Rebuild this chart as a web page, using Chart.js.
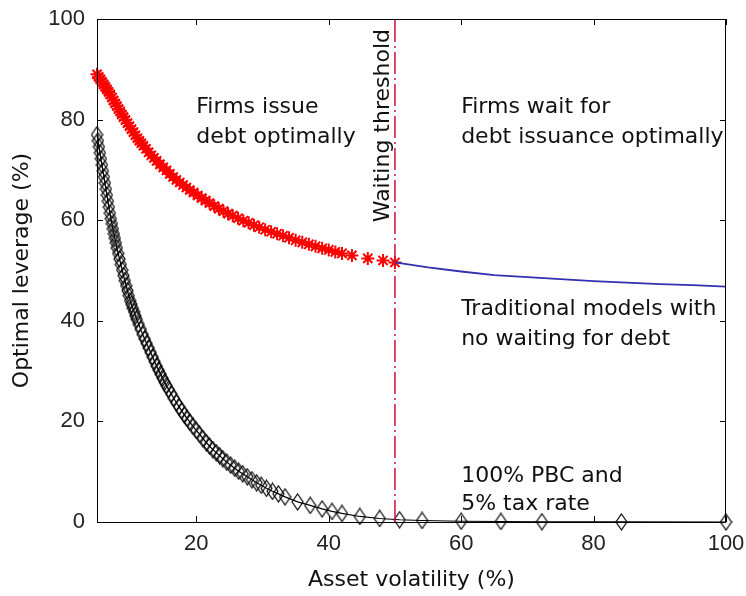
<!DOCTYPE html>
<html>
<head>
<meta charset="utf-8">
<script src="https://cdn.jsdelivr.net/npm/chart.js@4"></script>
<style>
  html, body { margin: 0; padding: 0; background: #fff; }
  #wrap { width: 746px; height: 596px; }
</style>
</head>
<body>
<div id="wrap"><canvas id="chart" width="746" height="596"></canvas></div>
<script>
// ==== Data: optimal leverage vs asset volatility ====
// waiting model (firms issue debt optimally), red asterisks
const waitX = [5, 5.25, 5.5, 5.75, 6, 6.25, 6.5, 6.75, 7, 7.25, 7.5, 7.75, 8, 8.25, 8.5, 8.75,
  9, 9.3, 9.6, 9.9, 10.2, 10.5, 10.8, 11.1, 11.4, 11.7, 12, 12.4, 12.8, 13.2, 13.6, 14,
  14.5, 15, 15.5, 16, 16.5, 17, 17.5, 18, 18.5, 19, 19.6, 20.2, 20.8, 21.4, 22, 22.7,
  23.4, 24.1, 24.8, 25.5, 26.3, 27.1, 27.9, 28.7, 29.5, 30.4, 31.3, 32.2, 33.1, 34,
  35, 36, 37, 38, 39, 40, 41, 42, 43.5, 45.9, 48.2, 50];
const waitLev = [89, 88.5, 88, 87.5, 87, 86.5, 86, 85.5, 85, 84.4, 83.8, 83.2, 82.7, 82.1, 81.6, 81,
  80.5, 79.9, 79.3, 78.7, 78.1, 77.5, 76.9, 76.3, 75.8, 75.3, 74.8, 74.2, 73.5, 72.9, 72.4, 71.8,
  71.1, 70.5, 69.9, 69.2, 68.6, 68, 67.5, 67, 66.5, 66, 65.5, 64.9, 64.4, 63.9, 63.4, 62.8,
  62.3, 61.8, 61.3, 60.9, 60.4, 59.9, 59.5, 59, 58.6, 58.1, 57.7, 57.3, 56.9, 56.5,
  56, 55.6, 55.2, 54.8, 54.4, 54.1, 53.7, 53.4, 53, 52.4, 52, 51.6];

// traditional model beyond the waiting threshold, blue line
const tradX = [50, 55, 60, 65, 70, 75, 80, 85, 90, 95, 100];
const tradLev = [51.6, 50.6, 49.8, 49.1, 48.7, 48.3, 47.9, 47.6, 47.3, 47.1, 46.8];

// 100% PBC and 5% tax rate, black diamonds
const pbcX = [5, 5.15, 5.3, 5.45, 5.6, 5.75, 5.9, 6.05, 6.2, 6.35, 6.5, 6.65, 6.8, 6.95, 7.1, 7.25,
  7.4, 7.55, 7.7, 7.85, 8, 8.2, 8.4, 8.6, 8.8, 9, 9.2, 9.4, 9.6, 9.8, 10, 10.2, 10.4, 10.6,
  10.8, 11, 11.3, 11.6, 11.9, 12.2, 12.5, 12.8, 13.1, 13.4, 13.7, 14, 14.3, 14.6, 14.9, 15.2,
  15.5, 15.8, 16.2, 16.6, 17, 17.4, 17.8, 18.2, 18.6, 19, 19.5, 20, 20.5, 21, 21.5, 22, 22.5,
  23, 23.5, 24, 24.6, 25.2, 25.8, 26.4, 27, 27.7, 28.4, 29.1, 29.8, 30.6, 31.5, 32.4, 33.4,
  35.3, 37.2, 39, 40.5, 42, 44.7, 47.7, 50.7, 54.1, 60, 66, 72.2, 84.2, 100];
const pbcLev = [77, 75.8, 74.6, 73.4, 72.2, 71, 69.8, 68.6, 67.4, 66.2, 65, 63.8, 62.6, 61.4, 60.3, 59.3,
  58.3, 57.3, 56.4, 55.5, 54.5, 53.4, 52.3, 51.2, 50.1, 49, 48, 47, 46, 45, 44, 43.3, 42.5, 41.8,
  41, 40.3, 39.3, 38.3, 37.3, 36.4, 35.5, 34.6, 33.7, 32.8, 31.9, 31, 30.2, 29.4, 28.6, 27.8,
  27.1, 26.4, 25.5, 24.6, 23.7, 22.9, 22.1, 21.3, 20.6, 19.9, 19, 18.2, 17.4, 16.6, 15.8, 15.1, 14.4,
  13.8, 13.2, 12.6, 11.9, 11.3, 10.7, 10.1, 9.6, 9, 8.4, 7.8, 7.3, 6.7, 6.1, 5.6, 5,
  4, 3.3, 2.6, 2.1, 1.7, 1.1, 0.7, 0.45, 0.3, 0.15, 0.1, 0.05, 0.02, 0];

const thresholdX = 50;
const xTicks = [20, 40, 60, 80, 100];
const yTicks = [0, 20, 40, 60, 80, 100];

const zip = (xs, ys) => xs.map((x, i) => ({ x: x, y: ys[i] }));

// ==== Marker: tall hollow diamond ====
function makeDiamond(w, h) {
  const c = document.createElement('canvas');
  c.width = w + 2;
  c.height = h + 2;
  const g = c.getContext('2d');
  g.strokeStyle = '#000';
  g.lineWidth = 1.2;
  g.beginPath();
  g.moveTo(c.width / 2, 1);
  g.lineTo(c.width - 1, c.height / 2);
  g.lineTo(c.width / 2, c.height - 1);
  g.lineTo(1, c.height / 2);
  g.closePath();
  g.stroke();
  return c;
}
const diamond = makeDiamond(11, 16);

const TEXT_FONT = '22px "DejaVu Sans"';

// ==== Box with inward ticks, annotations ====
const framePlugin = {
  id: 'frame',
  afterDraw(chart) {
    const { ctx, chartArea: a, scales } = chart;
    const xs = scales.x, ys = scales.y;
    const tl = 6;
    ctx.save();
    ctx.strokeStyle = '#000';
    ctx.lineWidth = 1;
    ctx.strokeRect(a.left + 0.5, a.top + 0.5, a.right - a.left - 1, a.bottom - a.top);
    ctx.beginPath();
    xTicks.forEach(v => {
      const px = Math.round(xs.getPixelForValue(v)) + 0.5;
      ctx.moveTo(px, a.bottom); ctx.lineTo(px, a.bottom - tl);
      ctx.moveTo(px, a.top); ctx.lineTo(px, a.top + tl);
    });
    yTicks.forEach(v => {
      const py = Math.round(ys.getPixelForValue(v)) + 0.5;
      ctx.moveTo(a.left, py); ctx.lineTo(a.left + tl, py);
      ctx.moveTo(a.right, py); ctx.lineTo(a.right - tl, py);
    });
    ctx.stroke();

    // text notes placed in data units
    ctx.font = TEXT_FONT;
    ctx.fillStyle = '#111';
    ctx.textAlign = 'left';
    ctx.textBaseline = 'alphabetic';
    const notes = [
      ['Firms issue', 20, 81.3],
      ['debt optimally', 20, 75.3],
      ['Firms wait for', 60, 81.3],
      ['debt issuance optimally', 60, 75.3],
      ['Traditional models with', 60, 41.2],
      ['no waiting for debt', 60, 35.2],
      ['100% PBC and', 60, 8],
      ['5% tax rate', 60, 2.4]
    ];
    notes.forEach(([t, x, y]) => {
      ctx.fillText(t, xs.getPixelForValue(x), ys.getPixelForValue(y));
    });

    ctx.translate(xs.getPixelForValue(thresholdX) - 6, ys.getPixelForValue(59.6));
    ctx.rotate(-Math.PI / 2);
    ctx.fillText('Waiting threshold', 0, 0);
    ctx.restore();
  }
};

new Chart(document.getElementById('chart'), {
  type: 'scatter',
  data: {
    datasets: [
      {
        label: 'Waiting threshold',
        data: [{ x: thresholdX, y: 0 }, { x: thresholdX, y: 100 }],
        showLine: true,
        borderColor: '#d0103a',
        borderWidth: 1.5,
        borderDash: [22, 4, 2, 4],
        pointRadius: 0
      },
      {
        label: '100% PBC, 5% tax',
        data: zip(pbcX, pbcLev),
        showLine: true,
        borderColor: '#000',
        borderWidth: 1.2,
        pointStyle: diamond,
        pointRadius: 6,
        clip: false
      },
      {
        label: 'Traditional',
        data: zip(tradX, tradLev),
        showLine: true,
        borderColor: '#3030b0',
        borderWidth: 1.8,
        pointRadius: 0
      },
      {
        label: 'Waiting',
        data: zip(waitX, waitLev),
        showLine: false,
        pointStyle: 'star',
        pointRadius: 6.5,
        borderColor: '#ff0000',
        backgroundColor: '#ff0000',
        pointBorderWidth: 2,
        clip: false
      }
    ]
  },
  options: {
    responsive: false,
    animation: false,
    layout: { padding: { top: 19, right: 20, left: 0, bottom: 0 } },
    plugins: {
      legend: { display: false },
      tooltip: { enabled: false }
    },
    scales: {
      x: {
        type: 'linear',
        min: 5,
        max: 100,
        afterBuildTicks: s => { s.ticks = xTicks.map(v => ({ value: v })); },
        afterFit: s => {
          s.height = 74;
          s.paddingLeft = 0;
          s.paddingRight = 0;
        },
        grid: { display: false, drawTicks: false },
        border: { display: false },
        ticks: {
          padding: 9,
          maxRotation: 0,
          autoSkip: false,
          color: '#222',
          font: { family: 'Liberation Sans', size: 22 }
        },
        title: {
          display: true,
          text: 'Asset volatility (%)',
          color: '#111',
          font: { family: 'DejaVu Sans', size: 22 },
          padding: { top: 0, bottom: 3 }
        }
      },
      y: {
        min: 0,
        max: 100,
        afterBuildTicks: s => { s.ticks = yTicks.map(v => ({ value: v })); },
        afterFit: s => {
          s.width = 97;
          s.paddingTop = 0;
          s.paddingBottom = 0;
        },
        grid: { display: false, drawTicks: false },
        border: { display: false },
        ticks: {
          padding: 12,
          color: '#222',
          font: { family: 'Liberation Sans', size: 22 }
        },
        title: {
          display: true,
          text: 'Optimal leverage (%)',
          color: '#111',
          font: { family: 'DejaVu Sans', size: 22 },
          padding: { top: 9, bottom: 0 }
        }
      }
    }
  },
  plugins: [framePlugin]
});
</script>
</body>
</html>
